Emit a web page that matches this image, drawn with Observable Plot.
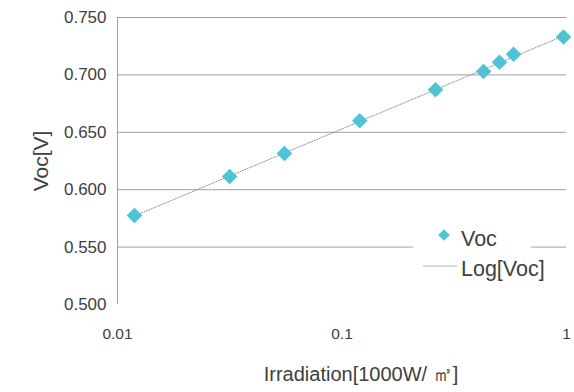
<!DOCTYPE html>
<html>
<head>
<meta charset="utf-8">
<script src="https://cdn.jsdelivr.net/npm/d3@7"></script>
<script src="https://cdn.jsdelivr.net/npm/@observablehq/plot@0.6"></script>
<style>
  html, body { margin: 0; padding: 0; background: #fff; }
  #chart svg { display: block; }
</style>
</head>
<body>
<div id="chart"></div>
<script>
// ---- data ----
const irradiation = [0.0119, 0.0316, 0.0554, 0.120, 0.261, 0.427, 0.503, 0.581, 0.970];
const voc = [0.5775, 0.6115, 0.6315, 0.660, 0.687, 0.703, 0.711, 0.718, 0.733];
const xTicks = [0.01, 0.1, 1];
const xTickLabels = ["0.01", "0.1", "1"];
const yTicks = [0.5, 0.55, 0.6, 0.65, 0.7, 0.75];
const yGrid = [0.55, 0.6, 0.65, 0.7, 0.75];
const seriesNames = ["Voc", "Log[Voc]"];
const xTitle = "Irradiation[1000W/ ㎡]";
const yTitle = "Voc[V]";

const points = irradiation.map((x, i) => ({x, y: voc[i]}));
const xLabelRows = xTicks.map((x, i) => ({x, label: xTickLabels[i]}));

// logarithmic least-squares trend line fitted to the data
const lx = irradiation.map(Math.log10);
const mx = d3.mean(lx), my = d3.mean(voc);
const slope = d3.sum(lx, (v, i) => (v - mx) * (voc[i] - my)) / d3.sum(lx, v => (v - mx) ** 2);
const icpt = my - slope * mx;
const xExt = d3.extent(irradiation);
const trend = xExt.map(x => ({x, y: icpt + slope * Math.log10(x)}));

const FONT = "'Liberation Sans', Arial, Helvetica, sans-serif";
const TXT = "#404040";
const COLOR = "#4fc3d6";

const plot = Plot.plot({
  width: 574,
  height: 392,
  marginLeft: 117,
  marginRight: 8,
  marginTop: 17,
  marginBottom: 88,
  style: {fontFamily: FONT, color: TXT, background: "#fff", overflow: "visible"},
  x: {type: "log", domain: [0.01, 1], axis: null},
  y: {domain: [0.5, 0.75], axis: null},
  marks: [
    Plot.ruleY(yGrid, {stroke: "#a0a0a0", strokeWidth: 1}),
    Plot.ruleX([0.01], {stroke: "#a0a0a0", strokeWidth: 1}),
    Plot.text(yTicks, {y: d => d, text: d => d3.format(".3f")(d), frameAnchor: "left", textAnchor: "end", dx: -11, fontSize: 17, fill: TXT}),
    Plot.text(xLabelRows, {x: "x", text: "label", frameAnchor: "bottom", textAnchor: "middle", dy: 34, fontSize: 15.5, fill: TXT}),
    Plot.line(trend, {x: "x", y: "y", stroke: "#8a8a8a", strokeWidth: 1, strokeDasharray: "1,1.6"}),
    Plot.dot(points, {x: "x", y: "y", symbol: "diamond2", r: 7, fill: COLOR, stroke: null}),
    Plot.text([xTitle], {frameAnchor: "bottom", textAnchor: "middle", dx: 19, dy: 76, fontSize: 20, fill: TXT}),
    Plot.text([yTitle], {frameAnchor: "left", textAnchor: "middle", dx: -76, rotate: -90, fontSize: 21, fill: TXT})
  ]
});

// legend overlaid inside the plot area
const svg = d3.select(plot);
const g = svg.append("g").attr("font-family", FONT).attr("fill", TXT).attr("text-anchor", "start");
g.append("rect").attr("x", 413).attr("y", 220).attr("width", 118).attr("height", 64).attr("fill", "#fff");
g.append("path").attr("d", d3.symbol(d3.symbolDiamond2, 85)()).attr("transform", "translate(444,235)").attr("fill", COLOR);
g.append("text").attr("x", 461).attr("y", 238).attr("dy", "0.35em").attr("font-size", 21.5).text(seriesNames[0]);
g.append("line").attr("x1", 423).attr("x2", 457).attr("y1", 266).attr("y2", 266).attr("stroke", "#b0b0b0").attr("stroke-width", 1);
g.append("text").attr("x", 461).attr("y", 268).attr("dy", "0.35em").attr("font-size", 21.5).text(seriesNames[1]);

document.getElementById("chart").append(plot);
</script>
</body>
</html>
